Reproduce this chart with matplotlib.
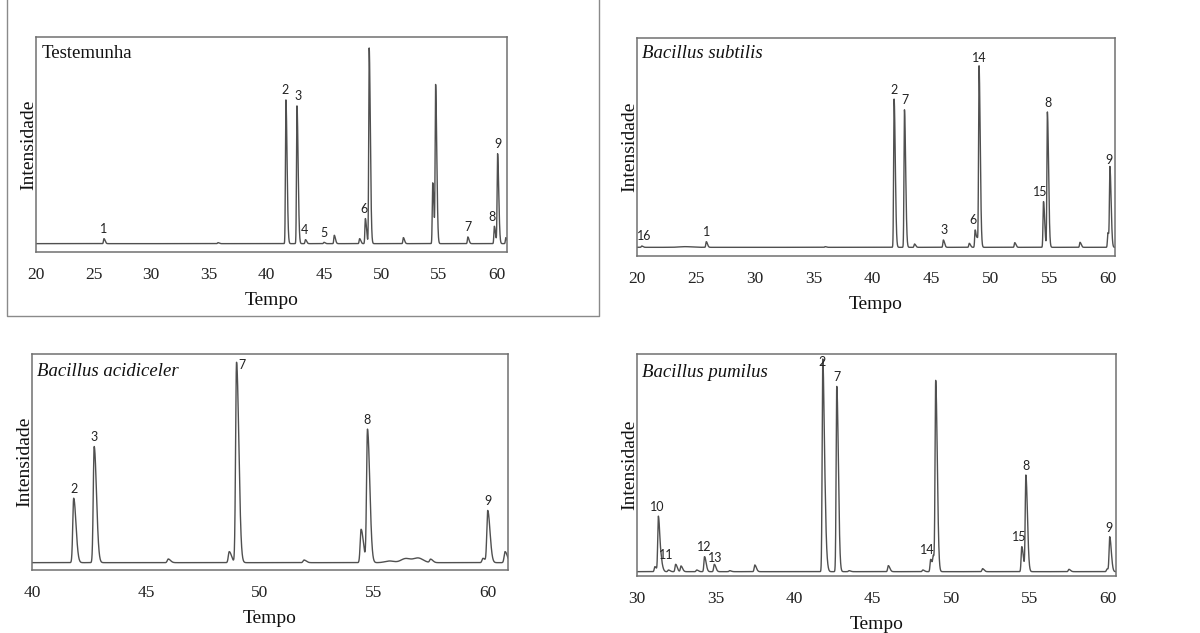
import numpy as np
import matplotlib
matplotlib.use("Agg")
import matplotlib.pyplot as plt
from matplotlib.lines import Line2D

# ---------------- DATA ----------------
# Panel 1: Testemunha
title1 = "Testemunha"
xlim1 = (20, 60.9)
ticks1 = [20, 25, 30, 35, 40, 45, 50, 55, 60]
peak_t1 = [25.9, 35.8, 41.7, 42.66, 43.4, 45.0, 45.9, 48.1, 48.6, 48.93, 51.9,
           54.45, 54.7, 57.5, 59.8, 60.08, 60.8]
peak_h1 = [15, 3, 430, 412, 12, 4, 25, 15, 75, 585, 18, 182, 468, 20, 52, 268, 18]
labels1 = ["1", "2", "3", "4", "5", "6", "7", "8", "9"]
label_t1 = [25.9, 41.62, 42.72, 43.35, 45.0, 48.45, 57.5, 59.6, 60.08]
label_peak1 = [25.9, 41.7, 42.66, 43.4, 45.0, 48.6, 57.5, 59.8, 60.08]

# Panel 2: Bacillus subtilis
title2 = "Bacillus subtilis"
xlim2 = (20, 60.57)
ticks2 = [20, 25, 30, 35, 40, 45, 50, 55, 60]
peak_t2 = [20.4, 25.88, 35.97, 41.82, 42.7, 43.55, 46.0, 48.2, 48.7, 48.88, 49.03,
           52.06, 54.5, 54.83, 57.6, 59.97, 60.14]
peak_h2 = [4, 17, 2, 444, 412, 10, 22, 12, 52, 20, 537, 14, 137, 405, 15, 44, 232]
broad_t2 = [24.1]
broad_h2 = [2]
broad_w2 = [0.5]
labels2 = ["16", "1", "2", "7", "3", "6", "14", "15", "8", "9"]
label_t2 = [20.65, 25.88, 41.82, 42.76, 46.05, 48.5, 49.05, 54.2, 54.85, 60.08]
label_peak2 = [20.4, 25.88, 41.82, 42.7, 46.0, 48.7, 49.03, 54.5, 54.83, 60.14]

# Panel 3: Bacillus acidiceler
title3 = "Bacillus acidiceler"
xlim3 = (40, 60.9)
ticks3 = [40, 45, 50, 55, 60]
peak_t3 = [41.83, 42.73, 45.98, 48.66, 48.98, 51.94, 54.45, 54.73, 57.5, 59.8,
           60.01, 60.77]
peak_h3 = [193, 348, 11, 33, 600, 8, 100, 398, 10, 13, 155, 33]
broad_t3 = [55.7, 56.4, 56.95]
broad_h3 = [5, 12, 14]
broad_w3 = [0.2, 0.2, 0.22]
labels3 = ["2", "3", "7", "8", "9"]
label_t3 = [41.83, 42.73, 49.15, 54.73, 60.01]
label_peak3 = [41.83, 42.73, 48.98, 54.73, 60.01]

# Panel 4: Bacillus pumilus
title4 = "Bacillus pumilus"
xlim4 = (30, 60.5)
ticks4 = [30, 35, 40, 45, 50, 55, 60]
peak_t4 = [31.14, 31.36, 31.55, 32.0, 32.46, 32.8, 33.8, 34.3, 34.92, 35.9, 37.5,
           41.83, 42.0, 42.72, 43.5, 46.0, 48.2, 48.7, 48.87, 49.02, 52.0, 54.5,
           54.76, 57.5, 59.93, 60.1]
peak_h4 = [15, 165, 20, 5, 22, 17, 5, 45, 22, 3, 20, 637, 60, 555, 3, 18, 5, 37,
           40, 560, 9, 75, 287, 7, 8, 103]
labels4 = ["10", "11", "12", "13", "2", "7", "14", "15", "8", "9"]
label_t4 = [31.3, 31.84, 34.3, 34.95, 41.81, 42.76, 48.5, 54.32, 54.8, 60.06]
label_peak4 = [31.36, 31.55, 34.3, 34.92, 41.83, 42.72, 48.7, 54.5, 54.76, 60.1]

# ---------------- DRAWING ----------------
W, H = 1200, 633
fig = plt.figure(figsize=(W / 100, H / 100), dpi=100)
fig.patch.set_facecolor("white")

SERIF = ["Liberation Serif", "DejaVu Serif"]
SANS = ["Lato", "DejaVu Sans"]


def trace(x, t, h, bt=(), bh=(), bw=(), sl=0.04, sr=0.1):
    y = np.zeros_like(x)
    for ti, hi in zip(t, h):
        d = x - ti
        s = np.where(d < 0, sl, sr)
        y += hi * np.exp(-0.5 * (d / s) ** 2)
    for ti, hi, wi in zip(bt, bh, bw):
        y += hi * np.exp(-0.5 * ((x - ti) / wi) ** 2)
    return y


def add_axes_px(left, top, right, bottom):
    return fig.add_axes([left / W, 1 - bottom / H, (right - left) / W, (bottom - top) / H])


panels = [
    dict(box=(36, 37, 507, 252), ylim=(-25, 618), xlim=xlim1, ticks=ticks1, title=title1,
         italic=False, t=peak_t1, h=peak_h1, bt=(), bh=(), bw=(),
         labels=labels1, lt=label_t1, lp=label_peak1, title_dy=16, special={}),
    dict(box=(637, 38, 1115, 256), ylim=(-26, 627), xlim=xlim2, ticks=ticks2, title=title2,
         italic=True, t=peak_t2, h=peak_h2, bt=broad_t2, bh=broad_h2, bw=broad_w2,
         labels=labels2, lt=label_t2, lp=label_peak2, title_dy=15, special={}),
    dict(box=(32, 354, 508, 570), ylim=(-22, 625), xlim=xlim3, ticks=ticks3, title=title3,
         italic=True, t=peak_t3, h=peak_h3, bt=broad_t3, bh=broad_h3, bw=broad_w3,
         labels=labels3, lt=label_t3, lp=label_peak3, title_dy=18,
         special={"7": (1, -9)}),
    dict(box=(637, 354, 1116, 576), ylim=(-13, 652), xlim=xlim4, ticks=ticks4, title=title4,
         italic=True, t=peak_t4, h=peak_h4, bt=(), bh=(), bw=(),
         labels=labels4, lt=label_t4, lp=label_peak4, title_dy=19,
         special={"2": (0, -9), "13": (0, -2)}),
]

for p in panels:
    ax = add_axes_px(*p["box"])
    x = np.linspace(p["xlim"][0], p["xlim"][1], 12000)
    y = trace(x, p["t"], p["h"], p["bt"], p["bh"], p["bw"])
    ax.plot(x, y, color="#505050", lw=1.0)
    ax.set_xlim(*p["xlim"])
    ax.set_ylim(*p["ylim"])
    ax.set_xticks(p["ticks"])
    ax.set_xticklabels([str(v) for v in p["ticks"]], family=SERIF, fontsize=12.5)
    ax.set_yticks([])
    ax.tick_params(axis="x", length=0, pad=11, colors="#222222")
    for s in ax.spines.values():
        s.set_color("#707070")
        s.set_linewidth(1.1)
    ax.set_xlabel("Tempo", family=SERIF, fontsize=14, labelpad=6, color="#111111")
    ax.set_ylabel("Intensidade", family=SERIF, fontsize=14, labelpad=-1, color="#111111")
    bh_px = p["box"][3] - p["box"][1]
    ax.text(0.011, 1 - p["title_dy"] / bh_px, p["title"], transform=ax.transAxes,
            family=SERIF, fontsize=13.5, va="center", ha="left",
            style="italic" if p["italic"] else "normal", color="#111111")
    heights = dict(zip(p["t"], p["h"]))
    for lab, lx, lpk in zip(p["labels"], p["lt"], p["lp"]):
        ypk = heights[lpk]
        dx, dy = p["special"].get(lab, (0, 0))
        ax.annotate(lab, xy=(lx, ypk), xytext=(dx, 4 + dy), textcoords="offset points",
                    ha="center", va="baseline", family=SANS, fontsize=9, color="#222222")

# outer frame around the first panel
fx = [7 / W, 7 / W, 599 / W, 599 / W]
fy = [1.0, 1 - 316 / H, 1 - 316 / H, 1.0]
fig.add_artist(Line2D(fx, fy, transform=fig.transFigure, color="#8a8a8a", lw=1.0))

fig.savefig("out.png", dpi=100, facecolor="white")
